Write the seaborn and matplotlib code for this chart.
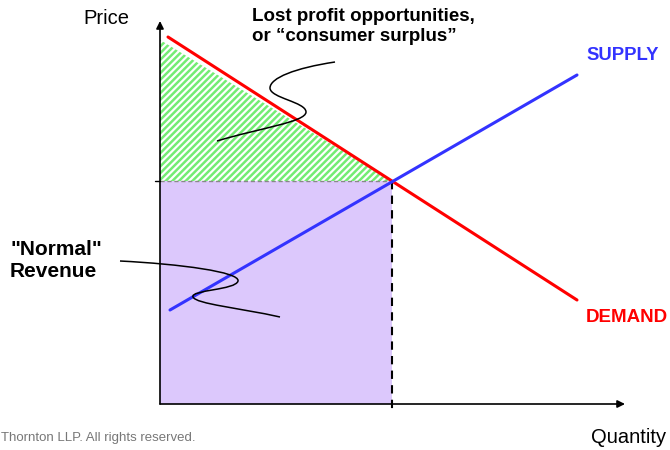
import numpy as np
import pandas as pd
import seaborn as sns
import matplotlib.pyplot as plt
from matplotlib.path import Path
from matplotlib.patches import PathPatch

# curve end points (quantity, price) in chart units
demand_q = [0.8, 41.7]
demand_p = [36.7, 10.4]
supply_q = [1.0, 41.7]
supply_p = [9.4, 32.9]
eq_q, eq_p = 23.2, 22.3
q_axis_max, p_axis_max = 46.5, 38.3

# wavy pointer lines (bezier control points)
surplus_pointer = [(17.5, 34.2), (13.5, 33.6), (11.0, 32.6), (11.0, 31.6),
                   (11.0, 30.6), (14.6, 30.2), (14.6, 29.2),
                   (14.6, 28.2), (10.0, 27.6), (5.7, 26.3)]
revenue_pointer = [(-4.0, 14.3), (2.0, 14.0), (8.0, 13.2), (7.8, 12.3),
                   (7.6, 11.4), (3.0, 11.4), (3.3, 10.7),
                   (3.6, 10.0), (8.0, 9.6), (12.0, 8.7)]

sns.set_style("white")
plt.rcParams['font.family'] = ['Liberation Sans', 'DejaVu Sans']
plt.rcParams['text.color'] = 'black'
plt.rcParams['hatch.linewidth'] = 1.8

fig = plt.figure(figsize=(6.7, 4.5), dpi=100)
ax = fig.add_axes([0, 0, 1, 1])
ax.set_xlim(-16, 51)
ax.set_ylim(-4.6, 40.4)
ax.axis('off')

# normal revenue box
ax.fill_between([0, eq_q], 0, eq_p, color='#DCC8FC', lw=0, zorder=1)

# consumer surplus triangle
slope = (demand_p[1] - demand_p[0]) / (demand_q[1] - demand_q[0])
qs = np.array([0, eq_q])
top = np.array([demand_p[0] - slope * demand_q[0] - 0.8, eq_p])
ax.fill_between(qs, eq_p, top, facecolor='white', edgecolor='#74EC74',
                hatch='/////', lw=0, zorder=1)

# equilibrium guides
ax.plot([0, eq_q], [eq_p, eq_p], color='#888888', lw=1, ls=(0, (3, 2)), zorder=2)
ax.plot([eq_q, eq_q], [eq_p, -0.8], color='black', lw=1.5, ls=(0, (4, 3)), zorder=2)
ax.plot([-0.5, 0], [eq_p, eq_p], color='black', lw=1, zorder=3)

# supply and demand lines
lines = pd.DataFrame({
    'q': demand_q + supply_q,
    'p': demand_p + supply_p,
    'curve': ['Demand'] * 2 + ['Supply'] * 2,
})
sns.lineplot(data=lines, x='q', y='p', hue='curve',
             palette={'Demand': '#FF0000', 'Supply': '#3333FF'},
             linewidth=2.2, legend=False, ax=ax, zorder=4)

# axes with arrows
arrow = dict(arrowstyle='-|>', lw=1.2, color='black', mutation_scale=11,
             shrinkA=0, shrinkB=0)
ax.annotate('', xy=(0, p_axis_max), xytext=(0, 0), arrowprops=arrow, zorder=5)
ax.annotate('', xy=(q_axis_max, 0), xytext=(0, 0), arrowprops=arrow, zorder=5)

# pointers
codes = [Path.MOVETO] + [Path.CURVE4] * 9
for pts in (surplus_pointer, revenue_pointer):
    ax.add_patch(PathPatch(Path(pts, codes), fill=False, lw=1.1,
                           edgecolor='black', zorder=6))

# labels
ax.text(-3.1, 38.0, 'Price', fontsize=14.5, ha='right', va='baseline')
ax.text(50.6, -3.9, 'Quantity', fontsize=14.5, ha='right', va='baseline')
ax.text(9.2, 39.6, 'Lost profit opportunities,\nor \u201cconsumer surplus\u201d',
        fontsize=13.5, fontweight='bold', ha='left', va='top', linespacing=1.2)
ax.text(-15, 16.4, '"Normal"\nRevenue', fontsize=15, fontweight='bold',
        ha='left', va='top', linespacing=1.2)
ax.text(42.6, 34.8, 'SUPPLY', fontsize=13.3, fontweight='bold', color='#3333FF',
        ha='left', va='center')
ax.text(42.6, 8.7, 'DEMAND', fontsize=13.5, fontweight='bold', color='#FF0000',
        ha='left', va='center')
ax.text(-15.9, -3.4, 'Thornton LLP. All rights reserved.', fontsize=9.5,
        color='#777777', ha='left', va='center')

fig.savefig('out.png', dpi=100)
